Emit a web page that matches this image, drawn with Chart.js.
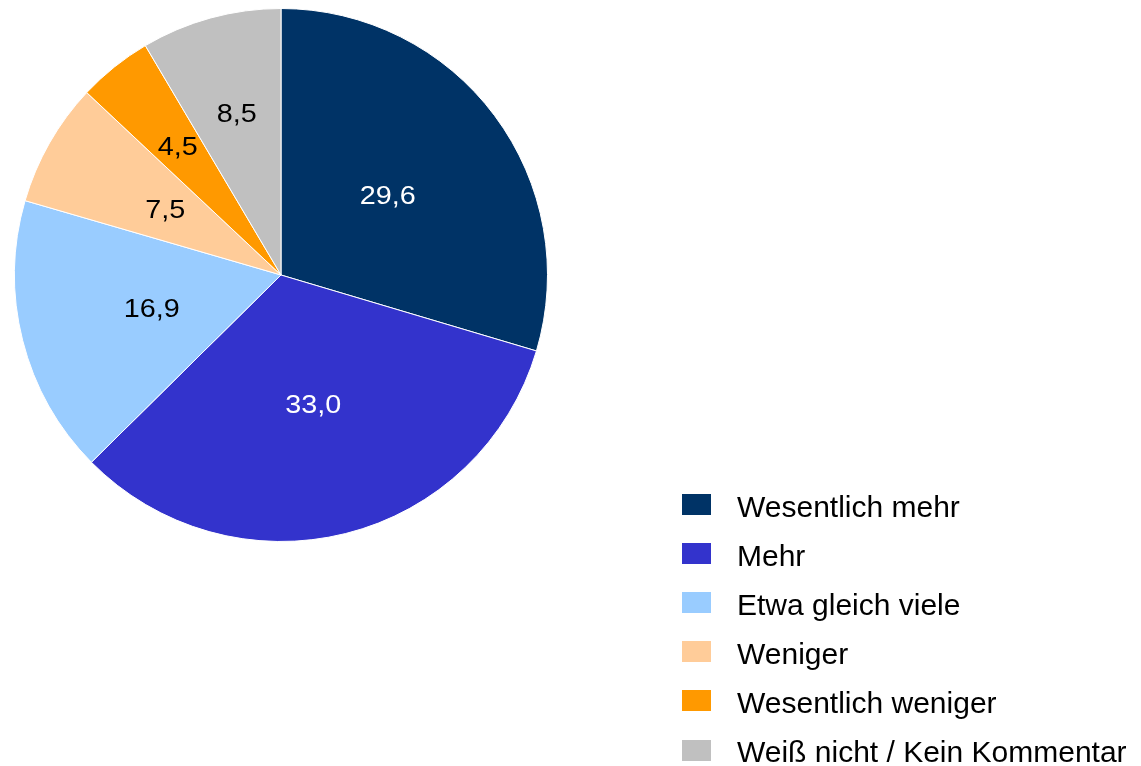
<!DOCTYPE html>
<html>
<head>
<meta charset="utf-8">
<script src="https://cdn.jsdelivr.net/npm/chart.js@4"></script>
<style>
  body { margin: 0; background: #fff; }
  #wrap { position: relative; width: 1141px; height: 766px; }
</style>
</head>
<body>
<div id="wrap"><canvas id="myChart"></canvas></div>
<script>
let labels = ["Wesentlich mehr", "Mehr", "Etwa gleich viele", "Weniger", "Wesentlich weniger", "Weiß nicht / Kein Kommentar"];
let values = [29.6, 33.0, 16.9, 7.5, 4.5, 8.5];
let colors = ['#003366', '#3333cc', '#99ccff', '#ffcc99', '#ff9900', '#c0c0c0'];
let labelColors = ['#ffffff', '#ffffff', '#000000', '#000000', '#000000', '#000000'];

// value labels inside the slices (decimal comma), slightly widened like the original
let sliceLabels = {
    id: 'sliceLabels',
    afterDatasetsDraw(chart, args, opts) {
        let ctx = chart.ctx;
        let meta = chart.getDatasetMeta(0);
        ctx.save();
        ctx.font = opts.size + 'px "Liberation Sans", Arial, sans-serif';
        ctx.textAlign = 'center';
        ctx.textBaseline = 'alphabetic';
        meta.data.forEach((arc, i) => {
            let p = arc.getProps(['x', 'y', 'startAngle', 'endAngle', 'outerRadius']);
            let mid = (p.startAngle + p.endAngle) / 2;
            let r = p.outerRadius * opts.radius[i];
            let text = values[i].toFixed(1).replace('.', ',');
            ctx.save();
            ctx.translate(p.x + Math.cos(mid) * r, p.y + Math.sin(mid) * r + opts.size * 0.358);
            ctx.scale(opts.stretch, 1);
            ctx.fillStyle = labelColors[i];
            ctx.fillText(text, 0, 0);
            ctx.restore();
        });
        ctx.restore();
    }
};

// legend on the lower right
let sideLegend = {
    id: 'sideLegend',
    afterDraw(chart, args, opts) {
        let ctx = chart.ctx;
        ctx.save();
        ctx.font = opts.size + 'px "Liberation Sans", Arial, sans-serif';
        ctx.textBaseline = 'alphabetic';
        ctx.textAlign = 'left';
        chart.data.labels.forEach((text, i) => {
            let y = opts.top + i * opts.rowHeight;
            ctx.fillStyle = chart.data.datasets[0].backgroundColor[i];
            ctx.fillRect(opts.left, Math.round(y), opts.boxWidth, opts.boxHeight);
            ctx.fillStyle = '#000';
            ctx.fillText(text, opts.textLeft, y + opts.boxHeight + 1.5);
        });
        ctx.restore();
    }
};

let ctx = document.getElementById('myChart').getContext('2d');

let myChart = new Chart(ctx, {
    type: 'pie',
    data: {
        labels: labels,
        datasets: [{
            data: values,
            backgroundColor: colors,
            borderColor: '#ffffff',
            borderWidth: 1
        }]
    },
    options: {
        responsive: true,
        maintainAspectRatio: false,
        animation: false,
        layout: {
            padding: { left: 14, top: 8, right: 593, bottom: 224 }
        },
        plugins: {
            legend: { display: false },
            tooltip: { enabled: false },
            sliceLabels: { size: 25, stretch: 1.15, radius: [0.5, 0.5, 0.5, 0.5, 0.62, 0.63] },
            sideLegend: { size: 30, left: 682, textLeft: 737, top: 494, rowHeight: 49.1, boxWidth: 29, boxHeight: 21 }
        }
    },
    plugins: [sliceLabels, sideLegend]
});
</script>
</body>
</html>
